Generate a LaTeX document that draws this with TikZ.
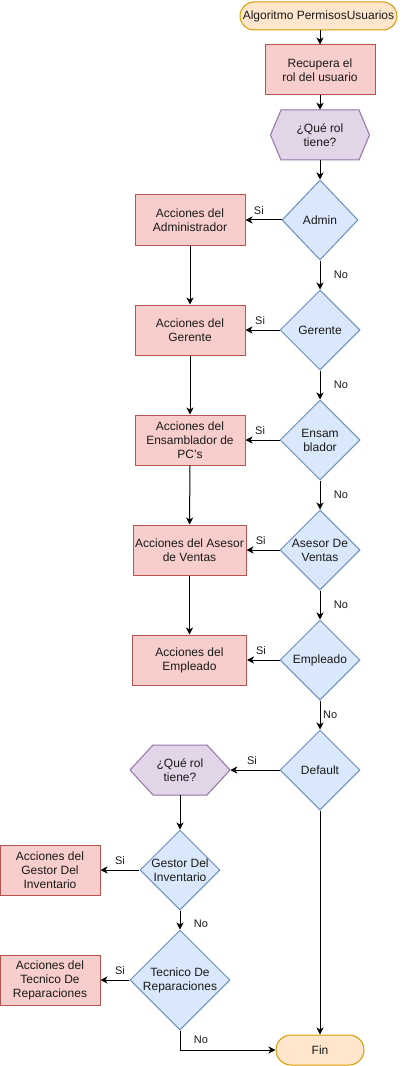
\documentclass[tikz,border=0pt]{standalone}
\usepackage{fontspec}
\setmainfont{Liberation Sans}
\usetikzlibrary{shapes.geometric,arrows.meta}
\definecolor{termF}{HTML}{FFE6CC}
\definecolor{termD}{HTML}{D79B00}
\definecolor{procF}{HTML}{F8CECC}
\definecolor{procD}{HTML}{B85450}
\definecolor{decF}{HTML}{DAE8FC}
\definecolor{decD}{HTML}{6C8EBF}
\definecolor{hexF}{HTML}{E1D5E7}
\definecolor{hexD}{HTML}{9673A6}
\begin{document}
\begin{tikzpicture}[x=0.75pt,y=-0.75pt,
  every node/.style={font=\fontsize{9}{10.5}\selectfont, align=center, text=black!90},
  term/.style={rectangle, draw=termD, fill=termF, line width=0.75pt, inner sep=0pt},
  proc/.style={rectangle, draw=procD, fill=procF, line width=0.75pt, inner sep=0pt,
    minimum width=110*0.75pt, minimum height=50*0.75pt},
  dec/.style={diamond, draw=decD, fill=decF, line width=0.75pt, inner sep=0pt,
    minimum width=80*0.75pt, minimum height=80*0.75pt},
  hexs/.style={draw=hexD, fill=hexF, line width=0.75pt},
  hextxt/.style={rectangle, inner sep=0pt, minimum width=100*0.75pt, minimum height=50*0.75pt},
  arr/.style={draw=black, line width=0.75pt, -{Stealth[length=7*0.75pt, width=7*0.75pt, inset=2*0.75pt]}},
  si/.style={font=\fontsize{8.25}{9}\selectfont, inner sep=0pt, above=4pt},
  no/.style={font=\fontsize{8.25}{9}\selectfont, inner sep=0pt, anchor=west, xshift=10pt}
]
\useasboundingbox (0,0) rectangle (401,1066);

% start and first steps
\node[term, rounded corners=14*0.75pt, minimum width=157*0.75pt, minimum height=28*0.75pt] (start) at (318.5,16) {Algoritmo PermisosUsuarios};
\node[proc] (rec) at (320,70) {Recupera el\\rol del usuario};
\path[hexs] (270.5,135) -- (281,110) -- (359,110) -- (369.5,135) -- (359,160) -- (281,160) -- cycle;
\node[hextxt] (q1) at (320,135) {¿Qué rol\\tiene?};

% decisions right column
\node[dec, minimum width=76*0.75pt, label={center:Admin}] (admin) at (320,220) {};
\node[dec, label={center:Gerente}] (ger) at (320,330) {};
\node[dec, label={center:Ensam\\blador}] (ens) at (320,440) {};
\node[dec, label={center:Asesor De\\Ventas}] (ase) at (320,550) {};
\node[dec, label={center:Empleado}] (emp) at (320,660) {};
\node[dec, label={center:Default}] (def) at (320,770) {};

% actions left column
\node[proc] (aadm) at (190,220) {Acciones del\\Administrador};
\node[proc] (ager) at (190,330) {Acciones del\\Gerente};
\node[proc] (aens) at (190,440) {Acciones del\\Ensamblador de\\PC's};
\node[proc, minimum width=113*0.75pt] (aase) at (189.5,550) {Acciones del Asesor\\de Ventas};
\node[proc, minimum width=114*0.75pt] (aemp) at (189.5,660) {Acciones del\\Empleado};

% second level
\path[hexs] (130,770) -- (153,745) -- (207,745) -- (230,770) -- (207,795) -- (153,795) -- cycle;
\node[hextxt] (q2) at (180,770) {¿Qué rol\\tiene?};
\node[dec, label={center:Gestor Del\\Inventario}] (ges) at (180,870) {};
\node[dec, minimum width=100*0.75pt, minimum height=100*0.75pt, label={center:Tecnico De\\Reparaciones}] (tec) at (180,980) {};
\node[proc, minimum width=100*0.75pt] (ages) at (50,870) {Acciones del\\Gestor Del\\Inventario};
\node[proc, minimum width=100*0.75pt] (atec) at (50,980) {Acciones del\\Tecnico De\\Reparaciones};
\node[term, rounded corners=15*0.75pt, minimum width=88*0.75pt, minimum height=30*0.75pt] (fin) at (320,1050) {Fin};

% connectors
\draw[arr] (start.south -| rec.north) -- (rec);
\draw[arr] (rec) -- (q1);
\draw[arr] (q1) -- (admin);
\draw[arr] (admin) -- node[si, pos=0.63]{Si} (aadm);
\draw[arr] (admin) -- node[no]{No} (ger);
\draw[arr] (ger) -- node[si, pos=0.57]{Si} (ager);
\draw[arr] (ger) -- node[no]{No} (ens);
\draw[arr] (ens) -- node[si, pos=0.57]{Si} (aens);
\draw[arr] (ens) -- node[no]{No} (ase);
\draw[arr] (ase) -- node[si, pos=0.57]{Si} (aase);
\draw[arr] (ase) -- node[no]{No} (emp);
\draw[arr] (emp) -- node[si, pos=0.57]{Si} (aemp);
\draw[arr] (emp) -- node[no, xshift=-8pt]{No} (def);
\draw[arr] (def) -- node[si, pos=0.56]{Si} (q2.east);
\draw[arr] (def) -- (fin);

\draw[arr] (aadm) -- (ager);
\draw[arr] (ager) -- (aens);
\draw[arr] (aens) -- (aase);
\draw[arr] (aase) -- (aemp);

\draw[arr] (q2) -- (ges);
\draw[arr] (ges) -- node[si, pos=0.5]{Si} (ages);
\draw[arr] (ges) -- node[no, pos=0.7]{No} (tec);
\draw[arr] (tec) -- node[si, pos=0.33]{Si} (atec);
\draw[arr] (tec.south) |- node[no, pos=0.25]{No} (fin.west);
\end{tikzpicture}
\end{document}
